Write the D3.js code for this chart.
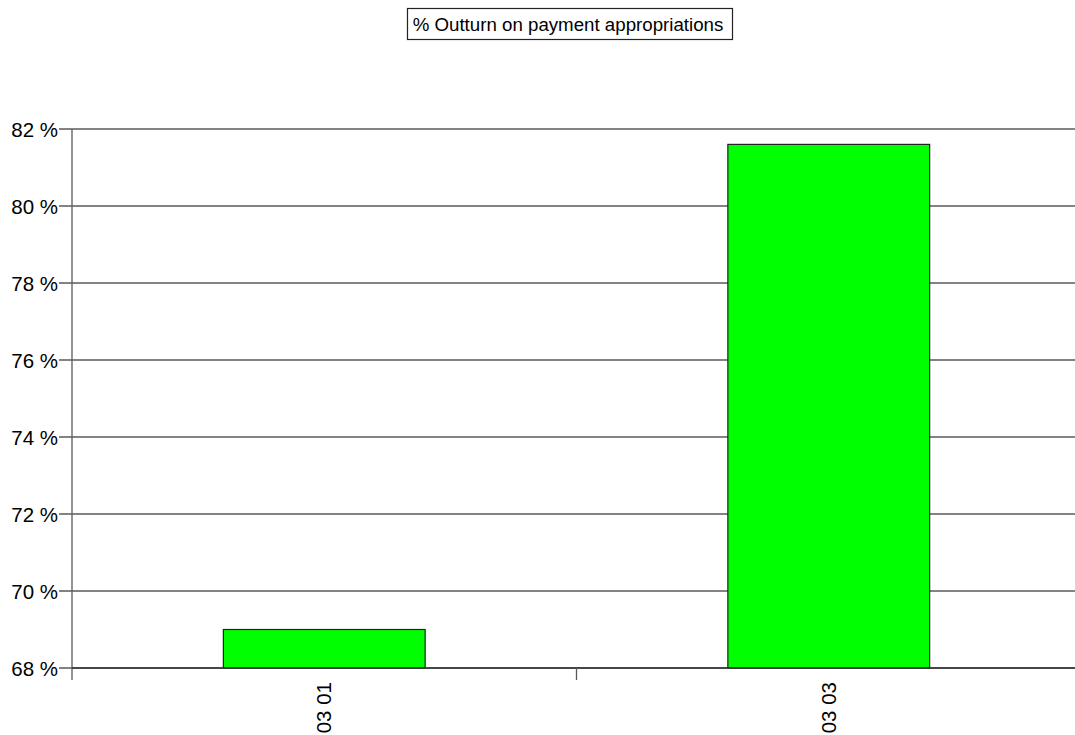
<!DOCTYPE html>
<html><head><meta charset="utf-8">
<script src="https://cdn.jsdelivr.net/npm/d3@7"></script>
<style>body{margin:0;background:#fff}svg{display:block}</style>
</head><body>
<svg id="c" width="1075" height="735"></svg>
<script>
const categories = ["03 01", "03 03"];
const values = [69.0, 81.6];
const yTicks = [68, 70, 72, 74, 76, 78, 80, 82];
const title = "% Outturn on payment appropriations";

(function () {
const svg = d3.select("#c");
const font = "'Liberation Sans', Arial, sans-serif";
const mLeft = 72, mRight = 1081, mTop = 129, mBottom = 668;

const x = d3.scaleBand().domain(categories).range([mLeft, mRight]).padding(0);
const y = d3.scaleLinear().domain([68, 82]).range([mBottom, mTop]);

// gridlines
svg.append("g").selectAll("line").data(yTicks).join("line")
  .attr("x1", mLeft - 13).attr("x2", mRight)
  .attr("y1", d => y(d)).attr("y2", d => y(d))
  .attr("stroke", "#5a5a5a").attr("stroke-width", 1.3);

// y labels
svg.append("g").selectAll("text").data(yTicks).join("text")
  .attr("x", 58).attr("y", d => y(d) + 1).attr("dy", "0.35em")
  .attr("text-anchor", "end").attr("font-family", font).attr("font-size", 20.5)
  .attr("fill", "#000").text(d => d + " %");

// bars
const bw = x.bandwidth() * 0.4;
svg.append("g").selectAll("rect").data(values).join("rect")
  .attr("x", (d, i) => x(categories[i]) + (x.bandwidth() - bw) / 2)
  .attr("width", bw)
  .attr("y", d => y(d)).attr("height", d => y(68) - y(d))
  .attr("fill", "#00ff00").attr("stroke", "#222").attr("stroke-width", 1.2);

// axes lines
svg.append("line").attr("x1", mLeft).attr("x2", mLeft).attr("y1", mTop).attr("y2", mBottom + 12)
  .attr("stroke", "#5a5a5a").attr("stroke-width", 1.3);
svg.append("line").attr("x1", mLeft).attr("x2", mRight).attr("y1", mBottom).attr("y2", mBottom)
  .attr("stroke", "#333").attr("stroke-width", 1.6);
// x ticks between categories
const bounds = categories.slice(1).map(c => x(c));
svg.append("g").selectAll("line").data(bounds).join("line")
  .attr("x1", d => d).attr("x2", d => d).attr("y1", mBottom).attr("y2", mBottom + 12)
  .attr("stroke", "#5a5a5a").attr("stroke-width", 1.3);

// x labels
svg.append("g").selectAll("text").data(categories).join("text")
  .attr("transform", d => `translate(${x(d) + x.bandwidth() / 2},${mBottom + 14}) rotate(-90)`)
  .attr("dy", "0.35em").attr("text-anchor", "end")
  .attr("font-family", font).attr("font-size", 20.5).attr("fill", "#000").text(d => d);

// title
const tg = svg.append("g");
tg.append("rect").attr("x", 407.5).attr("y", 8.5).attr("width", 325).attr("height", 31)
  .attr("fill", "#fff").attr("stroke", "#222").attr("stroke-width", 1.2);
tg.append("text").attr("x", 568).attr("y", 30.5).attr("text-anchor", "middle")
  .attr("font-family", font).attr("font-size", 18.7).attr("fill", "#000").text(title);
})();
</script>
</body></html>
